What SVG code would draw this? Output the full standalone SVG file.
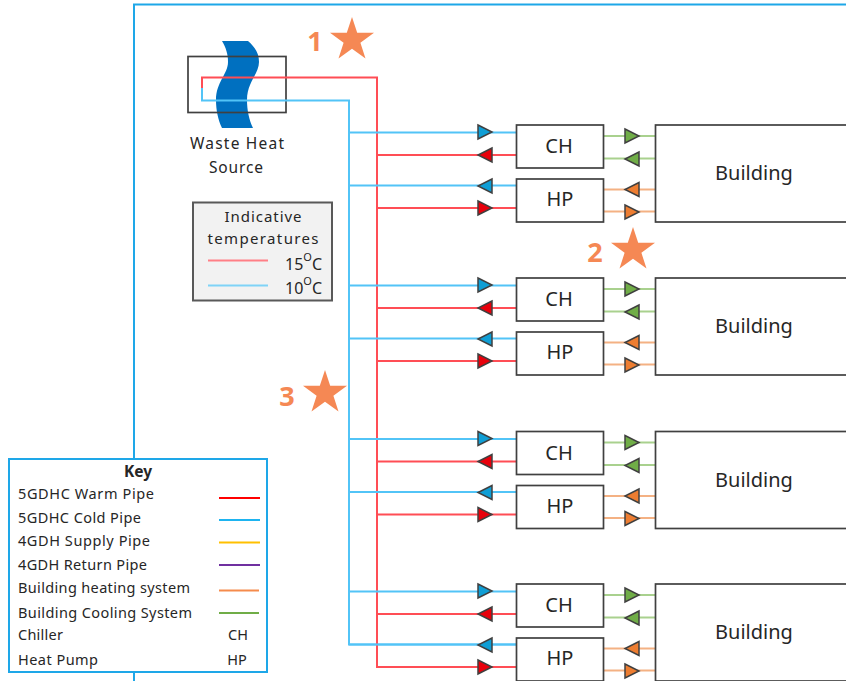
<svg xmlns="http://www.w3.org/2000/svg" width="846" height="681" viewBox="0 0 846 681">
<defs>
<style>
text{font-family:"Noto Sans","Open Sans","DejaVu Sans",sans-serif;fill:#262626}
.lb{font-size:20px;text-anchor:middle}
.kt{font-size:14.5px}
.num{font-size:27px;font-weight:700;fill:#F58854;text-anchor:middle;font-family:"Noto Sans",sans-serif}
.box{fill:#fff;stroke:#404040;stroke-width:1.7}
.p{fill:none;stroke-width:2}
.w{stroke:#FF4D55}.c{stroke:#52C4F7}
.g{stroke:#A9D18E;stroke-width:2}.o{stroke:#F4B183;stroke-width:2}
.tb{fill:#0F9ED5;stroke:#404040;stroke-width:1.5}
.tr{fill:#E8000B;stroke:#404040;stroke-width:1.5}
.tg{fill:#70AD47;stroke:#404040;stroke-width:1.5}
.to{fill:#ED7D31;stroke:#404040;stroke-width:1.5}
.sup{font-size:11px}
</style>
<polygon id="r" points="-7,-7 7,0 -7,7"/>
<polygon id="l" points="7,-7 -7,0 7,7"/>
<polygon id="star" points="0,-23 5.2,-7.2 22,-7.2 8.4,2.8 13.500,18.600 0,8.800 -13.500,18.600 -8.400,2.800 -22,-7.200 -5.200,-7.200" fill="#F58854"/>
<g id="unit">
<path class="p c" d="M349 132.500H516M349 185.500H516"/>
<path class="p w" d="M377 155H516M377 208H516"/>
<path class="g" fill="none" d="M603 136H655M603 158.500H655"/>
<path class="o" fill="none" d="M603 189.500H655M603 211.500H655"/>
<use href="#r" x="485" y="132" class="tb"/>
<use href="#l" x="485" y="155" class="tr"/>
<use href="#l" x="485" y="186" class="tb"/>
<use href="#r" x="485" y="208" class="tr"/>
<use href="#r" x="632" y="136" class="tg"/>
<use href="#l" x="632" y="159" class="tg"/>
<use href="#l" x="632" y="189.500" class="to"/>
<use href="#r" x="632" y="212" class="to"/>
<rect class="box" x="516.500" y="125" width="87" height="43"/>
<rect class="box" x="516.500" y="179" width="87" height="43"/>
<rect class="box" x="655.500" y="125" width="200" height="97"/>
<text class="lb" x="559" y="153">CH</text>
<text class="lb" x="560" y="206">HP</text>
<text class="lb" x="754" y="180">Building</text>
</g>
</defs>
<rect width="846" height="681" fill="#fff"/>
<path id="frame" d="M134 681V4.500H846" fill="none" stroke="#1EA7E8" stroke-width="2"/>
<g id="waste-heat-source">
<path d="M222 41H248C256 48 259 54 259 62C259 74 247 82 247 100C247 110 249 120 253 128H222C218 120 216 110 216 100C216 82 228 74 228 62C228 54 226 48 222 41Z" fill="#0070C0"/>
<rect x="188" y="56.500" width="98" height="56" fill="none" stroke="#404040" stroke-width="1.700"/>
<text x="237" y="149" font-size="15.500" text-anchor="middle" textLength="94">Waste Heat</text>
<text x="236" y="173" font-size="15.500" text-anchor="middle" textLength="54">Source</text>
</g>
<g id="connectors">
<path class="p c" d="M202 88V100.500H349V644.500H516"/>
<path class="p w" d="M202 88V77.500H377V667H516"/>
</g>
<g id="row-1"><use href="#unit"/></g>
<g id="row-2"><use href="#unit" y="153"/></g>
<g id="row-3"><use href="#unit" y="306.500"/></g>
<g id="row-4"><use href="#unit" y="459"/></g>
<g id="temperatures">
<rect x="193" y="202.500" width="139" height="98" fill="#F2F2F2" stroke="#595959" stroke-width="2"/>
<text x="263" y="222" font-size="15" text-anchor="middle" textLength="77">Indicative</text>
<text x="263" y="244" font-size="15" text-anchor="middle" textLength="111">temperatures</text>
<path d="M208 260.500H268" stroke="#FF7F86" stroke-width="2" fill="none"/>
<path d="M208 285.500H268" stroke="#7FD3F7" stroke-width="2" fill="none"/>
<text x="285" y="270" font-size="16">15<tspan class="sup" dy="-9">O</tspan><tspan dy="9">C</tspan></text>
<text x="285" y="294" font-size="16">10<tspan class="sup" dy="-9">O</tspan><tspan dy="9">C</tspan></text>
</g>
<g id="star-1"><use href="#star" x="352" y="40"/><text class="num" x="315" y="51">1</text></g>
<g id="star-2"><use href="#star" x="633" y="250"/><text class="num" x="595" y="262">2</text></g>
<g id="star-3"><use href="#star" x="325" y="393"/><text class="num" x="287" y="406">3</text></g>
<g id="key">
<rect x="9" y="459" width="258" height="213" fill="#fff" stroke="#1EA7E8" stroke-width="2"/>
<text x="138" y="477" font-size="15.500" font-weight="700" text-anchor="middle">Key</text>
<text class="kt" x="18" y="499" textLength="136">5GDHC Warm Pipe</text>
<text class="kt" x="18" y="523" textLength="123">5GDHC Cold Pipe</text>
<text class="kt" x="18" y="546" textLength="132">4GDH Supply Pipe</text>
<text class="kt" x="18" y="570" textLength="129">4GDH Return Pipe</text>
<text class="kt" x="18" y="593" textLength="172">Building heating system</text>
<text class="kt" x="18" y="618" textLength="174">Building Cooling System</text>
<text class="kt" x="18" y="640" textLength="45">Chiller</text>
<text class="kt" x="18" y="665" textLength="80">Heat Pump</text>
<path d="M219 498H260" stroke="#FF0000" stroke-width="2"/>
<path d="M219 520H260" stroke="#1EB4F0" stroke-width="2"/>
<path d="M219 542.500H260" stroke="#FFC000" stroke-width="2"/>
<path d="M219 565H260" stroke="#7030A0" stroke-width="2"/>
<path d="M219 590.500H259" stroke="#F58B4C" stroke-width="2"/>
<path d="M219 613H259" stroke="#70AD47" stroke-width="2"/>
<text class="kt" x="238" y="640" text-anchor="middle">CH</text>
<text class="kt" x="237" y="665" text-anchor="middle">HP</text>
</g>
</svg>
